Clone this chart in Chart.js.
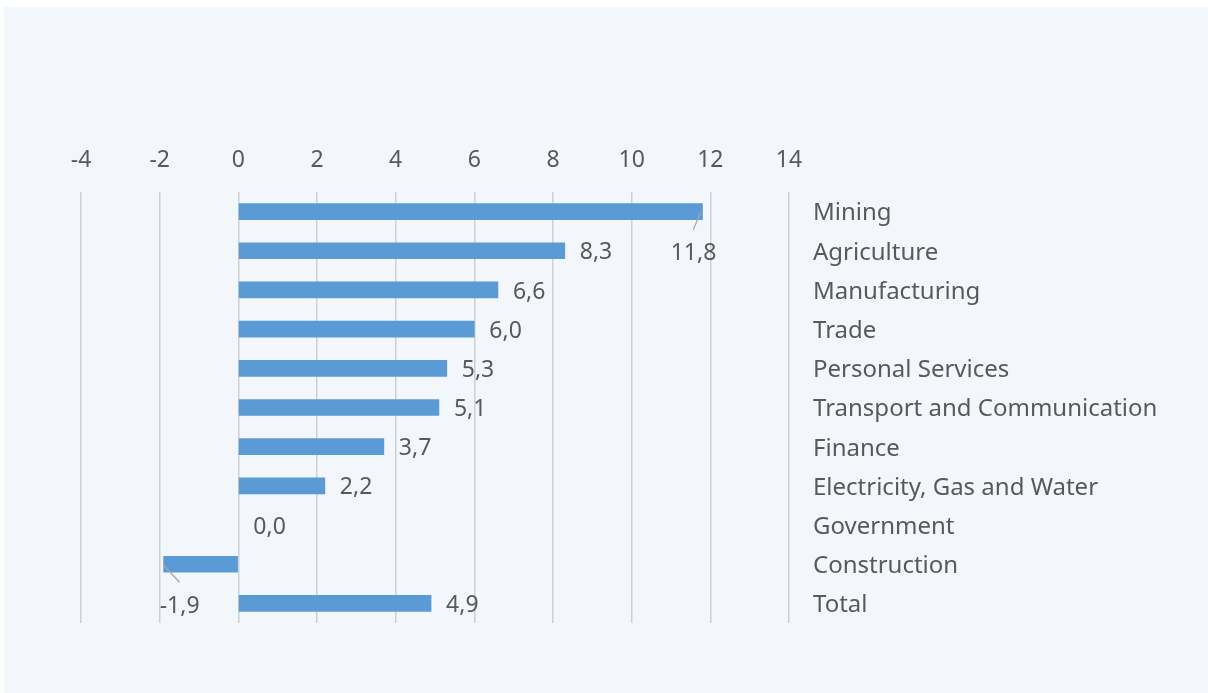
<!DOCTYPE html>
<html>
<head>
<meta charset="utf-8">
<script src="https://cdn.jsdelivr.net/npm/chart.js@4.4.0/dist/chart.umd.min.js"></script>
<style>
    body { margin: 0; background: #ffffff; }
    #panel {
        position: absolute; left: 4px; top: 7px; right: 0; bottom: 0;
        background: #F3F7FB;
    }
    #chart { position: absolute; left: 0; top: 0; }
</style>
</head>
<body>
<div id="panel"></div>
<canvas id="chart" width="1208" height="693"></canvas>
<script>
/* =====================================================
   DATA
===================================================== */

const sectors = [
    "Mining", "Agriculture", "Manufacturing", "Trade",
    "Personal Services", "Transport and Communication", "Finance",
    "Electricity, Gas and Water", "Government", "Construction", "Total"
];

const growth = [11.8, 8.3, 6.6, 6.0, 5.3, 5.1, 3.7, 2.2, 0.0, -1.9, 4.9];

const axisMin = -4;
const axisMax = 14;
const axisStep = 2;


/* =====================================================
   STYLE
===================================================== */

const textColor = "#595959";
const fontFamily = "'Noto Sans', 'Open Sans', sans-serif";
const fontSize = 24;


/* =====================================================
   VALUE LABELS (custom plugin, no datalabels available)
===================================================== */

const valueLabels = {
    id: "valueLabels",
    afterDatasetsDraw(chart, args, opts) {
        const ctx = chart.ctx;
        const meta = chart.getDatasetMeta(0);
        ctx.save();
        ctx.font = `${opts.size}px ${fontFamily}`;
        ctx.fillStyle = textColor;
        ctx.textBaseline = "middle";

        meta.data.forEach((bar, i) => {
            const v = chart.data.datasets[0].data[i];
            const txt = v.toFixed(1).replace(".", ",");
            const shift = opts.shifted[i];

            if (shift) {
                const lx = bar.x + shift.dx;
                const ly = bar.y + shift.dy;
                ctx.strokeStyle = "#A6A6A6";
                ctx.lineWidth = 1.2;
                ctx.beginPath();
                ctx.moveTo(bar.x + shift.lead, bar.y + 1);
                ctx.lineTo(lx, ly - 22);
                ctx.stroke();
                ctx.textAlign = "center";
                ctx.fillText(txt, lx, ly + opts.nudge);
            } else {
                ctx.textAlign = "left";
                ctx.fillText(txt, Math.max(bar.x, bar.base) + opts.gap, bar.y + opts.nudge);
            }
        });
        ctx.restore();
    }
};


/* =====================================================
   CHART
===================================================== */

new Chart(document.getElementById("chart"), {
    type: "bar",
    data: {
        labels: sectors,
        datasets: [{
            data: growth,
            backgroundColor: c => c.raw === 0 ? "rgba(0,0,0,0)" : "#5B9BD5",
            borderWidth: 0,
            barThickness: 16
        }]
    },
    options: {
        indexAxis: "y",
        responsive: false,
        animation: false,
        layout: { padding: { left: 81, right: 0, top: 132, bottom: 70 } },
        plugins: {
            legend: { display: false },
            tooltip: { enabled: false },
            valueLabels: {
                gap: 15,
                size: 23,
                nudge: 2,
                shifted: {
                    0: { dx: -9, dy: 40, lead: -2 },
                    9: { dx: 16, dy: 40, lead: 0 }
                }
            }
        },
        scales: {
            x: {
                position: "top",
                min: axisMin,
                max: axisMax,
                afterFit: s => { s.height = 60; },
                ticks: {
                    stepSize: axisStep,
                    padding: 18,
                    color: textColor,
                    font: { family: fontFamily, size: 23 }
                },
                grid: {
                    color: "#CDD1D5",
                    lineWidth: 1.5,
                    drawTicks: false
                },
                border: { display: false }
            },
            y: {
                position: "right",
                afterFit: s => { s.width = 1208 - 789; },
                ticks: {
                    padding: 24,
                    labelOffset: 2,
                    color: textColor,
                    font: { family: fontFamily, size: fontSize }
                },
                grid: { display: false, drawTicks: false },
                border: { display: false }
            }
        }
    },
    plugins: [valueLabels]
});
</script>
</body>
</html>
